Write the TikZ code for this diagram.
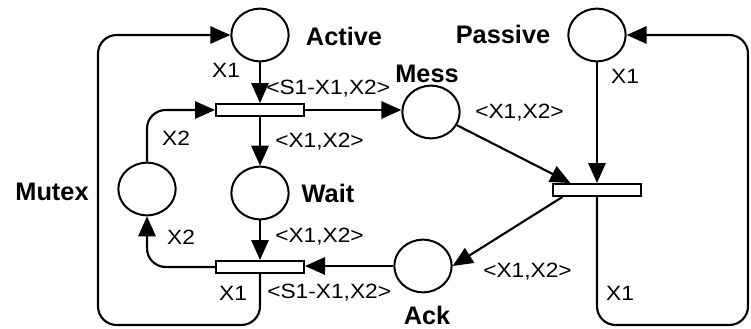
\documentclass[tikz,border=0pt]{standalone}
\usepackage{fontspec}
\setmainfont{Liberation Sans}
\newfontfamily\labfont[FakeStretch=1.1]{Liberation Sans}
\usetikzlibrary{shapes.geometric,arrows.meta}
\begin{document}
\begin{tikzpicture}[x=0.75pt,y=-0.75pt,
  place/.style={ellipse,draw,line width=1.5pt,minimum width=43pt,minimum height=39.5pt,inner sep=0pt},
  trans/.style={rectangle,draw,fill=white,line width=1.5pt,minimum width=66pt,minimum height=9pt,inner sep=0pt},
  arc/.style={line width=1.6pt,-{Triangle[length=15pt,width=13pt]}},
  rc/.style={rounded corners=14pt},
  lab/.style={font=\labfont\fontsize{15.5}{18}\selectfont,inner sep=0pt},
  pname/.style={font=\bfseries\fontsize{19}{22}\selectfont,inner sep=0pt}]
\useasboundingbox (0,0) rectangle (751,329);
% places
\node[place] (Active) at (260,35) {};
\node[place] (Passive) at (597,35) {};
\node[place] (Mess) at (431,112) {};
\node[place] (Wait) at (260,193) {};
\node[place] (Mutex) at (147,189) {};
\node[place] (Ack) at (423,266) {};
% transitions
\node[trans] (T1) at (260,110) {};
\node[trans] (T2) at (260,267) {};
\node[trans] (T3) at (597,190) {};
% loop corners
\coordinate (LB) at (98,325);
\coordinate (RB) at (748,325);
% arcs
\draw[arc] (Active.south) -- (T1.north);
\draw[arc] (T1.east) -- (T1.east -| Mess.west);
\draw[arc] (T1.south) -- (Wait.north);
\draw[arc,rc] (Mutex.north) |- (T1.west);
\draw[arc] (Wait.south) -- (T2.north);
\draw[arc] (Ack.west) -- (Ack.west -| T2.east);
\draw[arc,rc] (T2.west) -| (Mutex.south);
\draw[arc,rc] (T2.south) |- (LB) |- (Active.west);
\draw[arc] (Mess) -- ([xshift=-20pt]T3.north);
\draw[arc] (Passive.south) -- (T3.north);
\draw[arc] ([xshift=-26pt]T3.south) -- (Ack.east);
\draw[arc,rc] (T3.south) |- (RB) |- (Passive.east);
% redraw transitions on top
\node[trans] at (T1) {};
\node[trans] at (T2) {};
\node[trans] at (T3) {};
% place names
\node[pname] (lActive) at (344,36) {Active};
\node[pname] (lPassive) at (503,34) {Passive};
\node[pname] (lMess) at (427,74) {Mess};
\node[pname] (lWait) at (328,193) {Wait};
\node[pname] (lMutex) at (52,192) {Mutex};
\node[pname] (lAck) at (427,315) {Ack};
% arc labels
\node[lab] (a1) at (226,70) {X1};
\node[lab,anchor=west] (a2) at (266,89) {<S1-X1,X2>};
\node[lab,anchor=west] (a3) at (275,142) {<X1,X2>};
\node[lab] (a4) at (176,138) {X2};
\node[lab,anchor=west] (a5) at (475,113) {<X1,X2>};
\node[lab] (a6) at (625,76) {X1};
\node[lab] (a7) at (181,237) {X2};
\node[lab,anchor=west] (a8) at (275,237) {<X1,X2>};
\node[lab] (a9) at (233,293) {X1};
\node[lab,anchor=west] (a10) at (267,293) {<S1-X1,X2>};
\node[lab,anchor=west] (a11) at (483,272) {<X1,X2>};
\node[lab] (a12) at (620,293) {X1};
\end{tikzpicture}
\end{document}
